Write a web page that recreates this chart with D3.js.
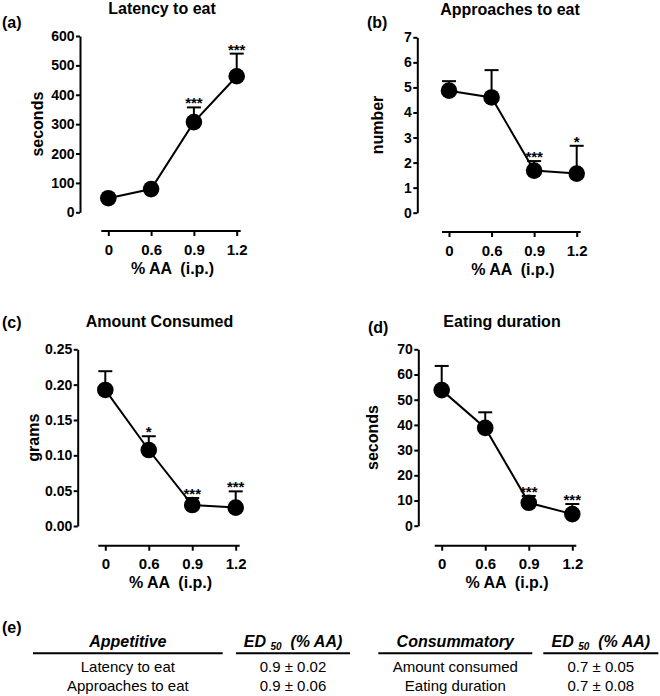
<!DOCTYPE html>
<html><head><meta charset="utf-8">
<script src="https://cdn.jsdelivr.net/npm/d3@7"></script>
<style>
body{margin:0;background:#fff}
svg{display:block;font-family:"Liberation Sans",Arial,sans-serif}
</style></head><body><svg id="c" width="660" height="696"></svg>
<script>
// ---- data ----
const doses = ["0", "0.6", "0.9", "1.2"];

const latencyMean = [48, 79, 307, 463];
const latencySem  = [5, 8, 50, 77];
const latencySig  = ["", "", "***", "***"];
const latencyTicks = [0, 100, 200, 300, 400, 500, 600];

const approachesMean = [4.87, 4.6, 1.68, 1.56];
const approachesSem  = [0.38, 1.09, 0.38, 1.11];
const approachesSig  = ["", "", "***", "*"];
const approachesTicks = [0, 1, 2, 3, 4, 5, 6, 7];

const amountMean = [0.1925, 0.1075, 0.0297, 0.026];
const amountSem  = [0.0265, 0.0195, 0.0099, 0.023];
const amountSig  = ["", "*", "***", "***"];
const amountTicks = [0, 0.05, 0.10, 0.15, 0.20, 0.25];

const durationMean = [53.8, 38.8, 9.1, 4.6];
const durationSem  = [9.6, 6.2, 2.7, 4.0];
const durationSig  = ["", "", "***", "***"];
const durationTicks = [0, 10, 20, 30, 40, 50, 60, 70];

const tableHeaders = ["Appetitive", "ED50", "Consummatory", "ED50"];
const appetitiveRows = ["Latency to eat", "Approaches to eat"];
const appetitiveED50 = ["0.9 ± 0.02", "0.9 ± 0.06"];
const consummatoryRows = ["Amount consumed", "Eating duration"];
const consummatoryED50 = ["0.7 ± 0.05", "0.7 ± 0.08"];

// ---- layout ----
const FONT = "Liberation Sans, Arial, sans-serif";
const panels = [
  {id:"(a)", title:"Latency to eat", yLabel:"seconds", mean:latencyMean, sem:latencySem, sig:latencySig,
   ticks:latencyTicks, fmt:d3.format("d"), ymax:600,
   ax:80, yTop:36, yBot:212.3, xAxisY:231, x0:108.3, x1:236.7,
   idX:2, idY:27.5, titleX:162, titleY:14, yTitleX:37},
  {id:"(b)", title:"Approaches to eat", yLabel:"number", mean:approachesMean, sem:approachesSem, sig:approachesSig,
   ticks:approachesTicks, fmt:d3.format("d"), ymax:7,
   ax:417.3, yTop:37.3, yBot:212.7, xAxisY:232, x0:449, x1:576.7,
   idX:367, idY:27.5, titleX:510, titleY:14.5, yTitleX:377},
  {id:"(c)", title:"Amount Consumed", yLabel:"grams", mean:amountMean, sem:amountSem, sig:amountSig,
   ticks:amountTicks, fmt:d3.format(".2f"), ymax:0.25,
   ax:77.7, yTop:349.3, yBot:526, xAxisY:545.7, x0:105.3, x1:235.7,
   idX:2, idY:328, titleX:159.5, titleY:326.5, yTitleX:33},
  {id:"(d)", title:"Eating duration", yLabel:"seconds", mean:durationMean, sem:durationSem, sig:durationSig,
   ticks:durationTicks, fmt:d3.format("d"), ymax:70,
   ax:418.3, yTop:349.3, yBot:525.7, xAxisY:545.7, x0:441.7, x1:572.3,
   idX:368, idY:332.5, titleX:502, titleY:326.5, yTitleX:372}
];

const svg = d3.select("#c");

function styleAxis(s, size) {
  s.attr("font-family", FONT).attr("font-size", size).attr("font-weight", "bold");
  s.selectAll("path,line").attr("stroke", "#000").attr("stroke-width", 2);
  s.selectAll("text").attr("fill", "#000");
}

panels.forEach(p => {
  const y = d3.scaleLinear().domain([0, p.ymax]).range([p.yBot, p.yTop]);
  const x = d3.scalePoint().domain(doses).range([p.x0, p.x1]);
  const g = svg.append("g");

  // y axis
  g.append("g").attr("transform", `translate(${p.ax},0)`)
    .call(d3.axisLeft(y).tickValues(p.ticks).tickFormat(p.fmt).tickSize(4).tickPadding(1.5).tickSizeOuter(0))
    .call(s => styleAxis(s, 14));

  // x axis (offset, Prism style)
  const xa = g.append("g").attr("transform", `translate(0,${p.xAxisY})`)
    .call(d3.axisBottom(x).tickSize(5).tickPadding(8).tickSizeOuter(0))
    .call(s => styleAxis(s, 15));
  xa.select(".domain").attr("d", `M${p.x0 - 7},0H${p.x1 + 4}`);

  // titles
  g.append("text").attr("x", p.titleX).attr("y", p.titleY).attr("text-anchor", "middle")
    .attr("font-family", FONT).attr("font-size", 16).attr("font-weight", "bold").text(p.title);
  g.append("text").attr("x", p.idX).attr("y", p.idY)
    .attr("font-family", FONT).attr("font-size", 16).attr("font-weight", "bold").text(p.id);
  g.append("text").attr("transform", `translate(${p.yTitleX},${(p.yTop + p.yBot) / 2}) rotate(-90)`)
    .attr("text-anchor", "middle").attr("dy", "0.35em")
    .attr("font-family", FONT).attr("font-size", 16).attr("font-weight", "bold").text(p.yLabel);
  g.append("text").attr("x", (p.x0 + p.x1) / 2).attr("y", p.xAxisY + 42.5).attr("text-anchor", "middle")
    .attr("font-family", FONT).attr("font-size", 16).attr("font-weight", "bold")
    .style("white-space", "pre").text("% AA  (i.p.)");

  const pts = doses.map((d, i) => ({d, m: p.mean[i], e: p.sem[i], s: p.sig[i]}));

  // error bars (upper)
  const eb = g.append("g").attr("stroke", "#000").attr("stroke-width", 2);
  eb.selectAll("line.v").data(pts).join("line").attr("class", "v")
    .attr("x1", d => x(d.d)).attr("x2", d => x(d.d))
    .attr("y1", d => y(d.m)).attr("y2", d => y(d.m + d.e));
  eb.selectAll("line.c").data(pts).join("line").attr("class", "c")
    .attr("x1", d => x(d.d) - 7).attr("x2", d => x(d.d) + 7)
    .attr("y1", d => y(d.m + d.e)).attr("y2", d => y(d.m + d.e));

  // connecting line
  g.append("path").datum(pts).attr("fill", "none").attr("stroke", "#000").attr("stroke-width", 2)
    .attr("d", d3.line().x(d => x(d.d)).y(d => y(d.m)));

  // markers
  g.selectAll("circle").data(pts).join("circle")
    .attr("cx", d => x(d.d)).attr("cy", d => y(d.m)).attr("r", 8.3).attr("fill", "#000");

  // significance stars
  g.selectAll("text.sig").data(pts.filter(d => d.s)).join("text").attr("class", "sig")
    .attr("x", d => x(d.d)).attr("y", d => y(d.m + d.e) + 1).attr("text-anchor", "middle")
    .attr("font-family", FONT).attr("font-size", 15).attr("font-weight", "bold").text(d => d.s);
});

// ---- table (e) ----
const t = svg.append("g").attr("font-family", FONT);
t.append("text").attr("x", 2).attr("y", 633).attr("font-size", 16).attr("font-weight", "bold").text("(e)");

const cols = [
  {x0: 33, x1: 222.7, rows: appetitiveRows},
  {x0: 236, x1: 350, rows: appetitiveED50},
  {x0: 378.3, x1: 532.3, rows: consummatoryRows},
  {x0: 543.3, x1: 658.3, rows: consummatoryED50}
];
cols.forEach((c, i) => {
  const cx = (c.x0 + c.x1) / 2;
  const h = t.append("text").attr("x", cx).attr("y", 646.5).attr("text-anchor", "middle")
    .attr("font-size", 16).attr("font-weight", "bold").attr("font-style", "italic").style("white-space", "pre");
  if (tableHeaders[i] === "ED50") {
    h.append("tspan").text("ED ");
    h.append("tspan").attr("font-size", 10).attr("dy", 3).text("50");
    h.append("tspan").attr("dy", -3).text("  (% AA)");
  } else {
    h.text(tableHeaders[i]);
  }
  t.append("line").attr("x1", c.x0).attr("x2", c.x1).attr("y1", 653.3).attr("y2", 653.3)
    .attr("stroke", "#000").attr("stroke-width", 2);
  c.rows.forEach((r, j) => {
    t.append("text").attr("x", cx).attr("y", 671.5 + j * 19.5).attr("text-anchor", "middle")
      .attr("font-size", 15).text(r);
  });
});
</script></body></html>
